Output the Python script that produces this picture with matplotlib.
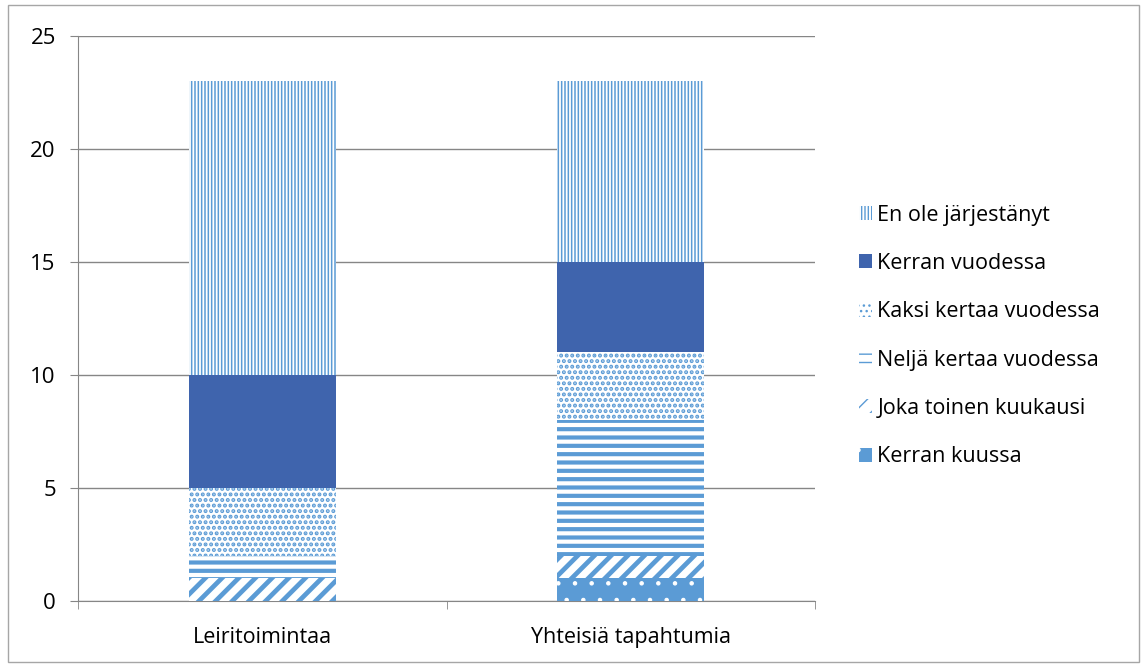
import matplotlib
matplotlib.use("Agg")
import matplotlib.pyplot as plt
from matplotlib.patches import Patch, Rectangle

# data
categories = ["Leiritoimintaa", "Yhteisiä tapahtumia"]
series = ["Kerran kuussa", "Joka toinen kuukausi", "Neljä kertaa vuodessa",
          "Kaksi kertaa vuodessa", "Kerran vuodessa", "En ole järjestänyt"]
kerran_kuussa = [0, 1]
joka_toinen = [1, 1]
nelja_kertaa = [1, 6]
kaksi_kertaa = [3, 3]
kerran_vuodessa = [5, 4]
en_ole = [13, 8]
values = [kerran_kuussa, joka_toinen, nelja_kertaa, kaksi_kertaa, kerran_vuodessa, en_ole]

blue = "#5B9BD5"
dark = "#3F64AD"
grid = "#868686"
# (facecolor, hatch colour, hatch, hatch linewidth)
styles = [
    (blue, "white", ".", 0.8),
    ("white", blue, "//", 3.4),
    ("white", blue, "--", 3.0),
    ("white", blue, "...", 2.0),
    (dark, dark, None, 1.0),
    ("white", blue, "|||||", 1.1),
]

plt.rcParams["font.family"] = ["Open Sans", "DejaVu Sans"]

fig = plt.figure(figsize=(11.43, 6.64), dpi=100)
ax = fig.add_axes([78 / 1143, 63 / 664, 737 / 1143, 565 / 664])

x = list(range(len(categories)))
bottom = [0] * len(categories)
handles = []
for name, vals, (fc, hc, hatch, hlw) in zip(series, values, styles):
    with plt.rc_context({"hatch.linewidth": hlw}):
        bars = ax.bar(x, vals, width=0.4, bottom=bottom, facecolor=fc,
                      edgecolor=hc, linewidth=0, hatch=hatch, zorder=3)
        h = Patch(facecolor=fc, edgecolor=hc, linewidth=0, hatch=hatch, label=name)
    for b in list(bars) + [h]:
        if hasattr(b, "set_hatch_linewidth"):
            b.set_hatch_linewidth(hlw)
    handles.append(h)
    bottom = [b + v for b, v in zip(bottom, vals)]

ax.set_xlim(-0.5, 1.5)
ax.set_ylim(0, 25)
ax.set_yticks(range(0, 26, 5))
ax.yaxis.grid(True, color=grid, linewidth=1)
ax.set_axisbelow(True)
for s in ["top", "right"]:
    ax.spines[s].set_visible(False)
ax.spines["left"].set_color(grid)
ax.spines["bottom"].set_color(grid)
ax.set_xticks(x)
ax.set_xticklabels(categories)
ax.set_xticks([-0.5, 0.5, 1.5], minor=True)
ax.tick_params(axis="x", which="major", length=0, pad=19, labelsize=15.5)
ax.tick_params(axis="x", which="minor", length=6, color=grid)
ax.tick_params(axis="y", length=6, color=grid, labelsize=16, pad=10)

leg = fig.legend(handles=handles[::-1], loc="center left",
                 bbox_to_anchor=(848 / 1143, 0.494), frameon=False, borderpad=0,
                 fontsize=15.5, handlelength=0.62, handleheight=0.62,
                 handletextpad=0.25, labelspacing=1.27)

fig.patches.append(Rectangle((8 / 1143, 2 / 664), 1131 / 1143, 657 / 664,
                             transform=fig.transFigure, fill=False,
                             edgecolor="#A6A6A6", linewidth=1))

fig.savefig("out.png", dpi=100)
